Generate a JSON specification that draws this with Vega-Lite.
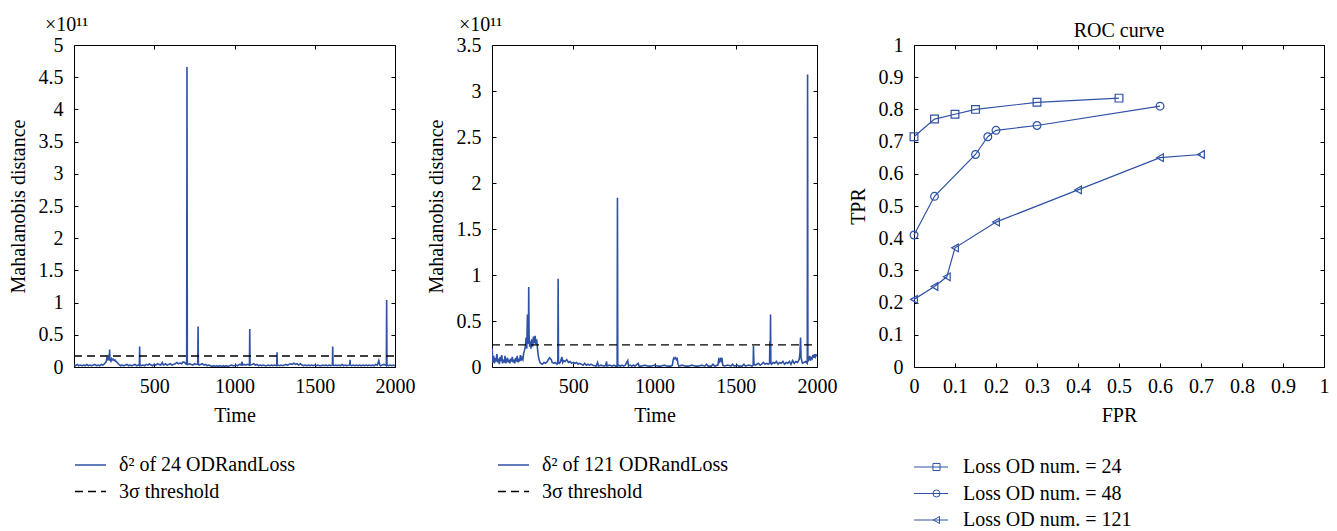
{
  "$schema": "https://vega.github.io/schema/vega-lite/v6.json",
  "padding": {"left": 7, "top": 14, "right": 5, "bottom": 5},
  "background": "white",
  "spacing": 97,
  "bounds": "flush",
  "config": {
    "font": "Liberation Serif",
    "view": {"stroke": "#000", "strokeWidth": 1},
    "axis": {"grid": false, "domain": false, "tickColor": "#000", "tickSize": -4, "labelColor": "#000", "titleColor": "#000", "labelFontSize": 20, "titleFontSize": 20, "titleFontWeight": "normal", "labelFlush": false, "labelOverlap": false, "labelFont": "Liberation Serif", "titleFont": "Liberation Serif"},
    "axisLeft": {"labelPadding": 15, "titlePadding": 10},
    "axisBottom": {"labelPadding": 13, "titlePadding": 9},
    "axisTop": {"minExtent": 0, "maxExtent": 0},
    "axisRight": {"minExtent": 0, "maxExtent": 0},
    "legend": {"labelFont": "Liberation Serif", "labelFontSize": 20, "labelColor": "#000", "padding": 0, "rowPadding": 0.5, "clipHeight": 26, "labelLimit": 400},
    "title": {"font": "Liberation Serif", "fontWeight": "normal", "fontSize": 20, "color": "#000"}
  },
  "datasets": {
    "p1": [
      {"t":1,"v":0.03},{"t":10,"v":0.02},{"t":20,"v":0.04},{"t":30,"v":0.02},{"t":40,"v":0.03},{"t":50,"v":0.02},{"t":60,"v":0.03},{"t":70,"v":0.02},{"t":80,"v":0.04},{"t":90,"v":0.02},{"t":100,"v":0.03},{"t":110,"v":0.02},{"t":120,"v":0.03},{"t":130,"v":0.04},{"t":140,"v":0.02},{"t":150,"v":0.03},{"t":160,"v":0.02},{"t":170,"v":0.04},{"t":180,"v":0.03},{"t":190,"v":0.05},{"t":200,"v":0.08},{"t":205,"v":0.14},{"t":210,"v":0.12},{"t":215,"v":0.16},{"t":220,"v":0.1},{"t":222,"v":0.27},{"t":224,"v":0.12},{"t":230,"v":0.09},{"t":235,"v":0.13},{"t":240,"v":0.11},{"t":245,"v":0.12},{"t":250,"v":0.1},{"t":255,"v":0.11},{"t":260,"v":0.09},{"t":265,"v":0.08},{"t":270,"v":0.07},{"t":275,"v":0.05},{"t":280,"v":0.04},{"t":290,"v":0.02},{"t":300,"v":0.03},{"t":310,"v":0.02},{"t":320,"v":0.03},{"t":330,"v":0.04},{"t":340,"v":0.02},{"t":350,"v":0.03},{"t":360,"v":0.02},{"t":370,"v":0.03},{"t":380,"v":0.04},{"t":390,"v":0.02},{"t":400,"v":0.03},{"t":407,"v":0.02},{"t":409,"v":0.32},{"t":411,"v":0.03},{"t":420,"v":0.02},{"t":430,"v":0.03},{"t":440,"v":0.02},{"t":450,"v":0.04},{"t":460,"v":0.03},{"t":470,"v":0.05},{"t":480,"v":0.03},{"t":490,"v":0.02},{"t":500,"v":0.04},{"t":510,"v":0.03},{"t":520,"v":0.05},{"t":530,"v":0.04},{"t":540,"v":0.03},{"t":550,"v":0.07},{"t":555,"v":0.04},{"t":560,"v":0.03},{"t":570,"v":0.05},{"t":580,"v":0.03},{"t":590,"v":0.04},{"t":600,"v":0.05},{"t":610,"v":0.03},{"t":620,"v":0.04},{"t":630,"v":0.05},{"t":640,"v":0.07},{"t":650,"v":0.05},{"t":660,"v":0.06},{"t":670,"v":0.05},{"t":680,"v":0.08},{"t":690,"v":0.07},{"t":695,"v":0.05},{"t":702,"v":0.04},{"t":704,"v":4.66},{"t":706,"v":0.05},{"t":710,"v":0.04},{"t":720,"v":0.05},{"t":730,"v":0.04},{"t":740,"v":0.03},{"t":750,"v":0.05},{"t":760,"v":0.04},{"t":771,"v":0.05},{"t":773,"v":0.63},{"t":775,"v":0.04},{"t":780,"v":0.03},{"t":790,"v":0.04},{"t":800,"v":0.05},{"t":810,"v":0.03},{"t":820,"v":0.04},{"t":830,"v":0.02},{"t":840,"v":0.03},{"t":850,"v":0.02},{"t":860,"v":0.01},{"t":870,"v":0.02},{"t":880,"v":0.01},{"t":890,"v":0.02},{"t":900,"v":0.01},{"t":910,"v":0.02},{"t":920,"v":0.01},{"t":930,"v":0.02},{"t":940,"v":0.01},{"t":950,"v":0.02},{"t":960,"v":0.01},{"t":970,"v":0.02},{"t":980,"v":0.03},{"t":990,"v":0.02},{"t":1000,"v":0.02},{"t":1010,"v":0.03},{"t":1020,"v":0.02},{"t":1030,"v":0.04},{"t":1040,"v":0.03},{"t":1047,"v":0.08},{"t":1050,"v":0.03},{"t":1060,"v":0.04},{"t":1070,"v":0.03},{"t":1080,"v":0.04},{"t":1093,"v":0.03},{"t":1095,"v":0.59},{"t":1097,"v":0.03},{"t":1110,"v":0.04},{"t":1120,"v":0.05},{"t":1130,"v":0.03},{"t":1140,"v":0.04},{"t":1150,"v":0.02},{"t":1160,"v":0.03},{"t":1170,"v":0.02},{"t":1180,"v":0.03},{"t":1190,"v":0.02},{"t":1200,"v":0.02},{"t":1210,"v":0.03},{"t":1220,"v":0.02},{"t":1230,"v":0.03},{"t":1240,"v":0.02},{"t":1250,"v":0.03},{"t":1263,"v":0.02},{"t":1265,"v":0.23},{"t":1267,"v":0.03},{"t":1280,"v":0.02},{"t":1290,"v":0.03},{"t":1300,"v":0.02},{"t":1310,"v":0.03},{"t":1320,"v":0.04},{"t":1330,"v":0.03},{"t":1340,"v":0.04},{"t":1350,"v":0.05},{"t":1360,"v":0.04},{"t":1370,"v":0.06},{"t":1380,"v":0.04},{"t":1390,"v":0.05},{"t":1400,"v":0.03},{"t":1410,"v":0.05},{"t":1420,"v":0.03},{"t":1430,"v":0.02},{"t":1440,"v":0.03},{"t":1450,"v":0.02},{"t":1460,"v":0.03},{"t":1470,"v":0.02},{"t":1480,"v":0.03},{"t":1490,"v":0.02},{"t":1500,"v":0.03},{"t":1510,"v":0.02},{"t":1520,"v":0.03},{"t":1530,"v":0.02},{"t":1540,"v":0.02},{"t":1550,"v":0.03},{"t":1560,"v":0.02},{"t":1570,"v":0.03},{"t":1580,"v":0.02},{"t":1590,"v":0.03},{"t":1600,"v":0.02},{"t":1610,"v":0.03},{"t":1612,"v":0.32},{"t":1614,"v":0.03},{"t":1620,"v":0.02},{"t":1630,"v":0.03},{"t":1640,"v":0.02},{"t":1650,"v":0.03},{"t":1660,"v":0.02},{"t":1670,"v":0.04},{"t":1680,"v":0.02},{"t":1690,"v":0.03},{"t":1700,"v":0.02},{"t":1718,"v":0.03},{"t":1720,"v":0.11},{"t":1722,"v":0.03},{"t":1730,"v":0.02},{"t":1740,"v":0.03},{"t":1750,"v":0.02},{"t":1760,"v":0.03},{"t":1770,"v":0.02},{"t":1780,"v":0.03},{"t":1790,"v":0.02},{"t":1800,"v":0.03},{"t":1810,"v":0.02},{"t":1820,"v":0.03},{"t":1830,"v":0.02},{"t":1840,"v":0.03},{"t":1850,"v":0.02},{"t":1860,"v":0.03},{"t":1870,"v":0.02},{"t":1880,"v":0.04},{"t":1890,"v":0.03},{"t":1899,"v":0.1},{"t":1905,"v":0.03},{"t":1910,"v":0.02},{"t":1920,"v":0.03},{"t":1930,"v":0.04},{"t":1940,"v":0.03},{"t":1946,"v":0.02},{"t":1948,"v":1.04},{"t":1950,"v":0.03},{"t":1960,"v":0.02},{"t":1970,"v":0.03},{"t":1980,"v":0.02},{"t":1990,"v":0.03},{"t":2000,"v":0.02}
    ],
    "th1": [{"t":0,"v":0.17},{"t":2000,"v":0.17}],
    "p2": [
      {"t":1,"v":0.2},{"t":5,"v":0.05},{"t":10,"v":0.12},{"t":15,"v":0.04},{"t":20,"v":0.1},{"t":25,"v":0.06},{"t":30,"v":0.14},{"t":35,"v":0.05},{"t":40,"v":0.09},{"t":45,"v":0.03},{"t":50,"v":0.11},{"t":55,"v":0.06},{"t":60,"v":0.13},{"t":65,"v":0.04},{"t":70,"v":0.08},{"t":75,"v":0.05},{"t":80,"v":0.12},{"t":85,"v":0.04},{"t":90,"v":0.07},{"t":95,"v":0.1},{"t":100,"v":0.05},{"t":105,"v":0.08},{"t":110,"v":0.04},{"t":115,"v":0.09},{"t":120,"v":0.06},{"t":125,"v":0.11},{"t":130,"v":0.05},{"t":135,"v":0.08},{"t":140,"v":0.04},{"t":145,"v":0.1},{"t":150,"v":0.06},{"t":155,"v":0.12},{"t":160,"v":0.05},{"t":165,"v":0.09},{"t":170,"v":0.06},{"t":175,"v":0.13},{"t":180,"v":0.07},{"t":185,"v":0.1},{"t":190,"v":0.08},{"t":195,"v":0.15},{"t":200,"v":0.18},{"t":205,"v":0.22},{"t":210,"v":0.32},{"t":214,"v":0.2},{"t":218,"v":0.57},{"t":220,"v":0.25},{"t":224,"v":0.3},{"t":226,"v":0.87},{"t":228,"v":0.35},{"t":232,"v":0.22},{"t":236,"v":0.28},{"t":240,"v":0.2},{"t":245,"v":0.3},{"t":250,"v":0.22},{"t":255,"v":0.33},{"t":260,"v":0.26},{"t":265,"v":0.34},{"t":270,"v":0.25},{"t":275,"v":0.3},{"t":280,"v":0.2},{"t":285,"v":0.12},{"t":290,"v":0.08},{"t":295,"v":0.05},{"t":300,"v":0.04},{"t":310,"v":0.03},{"t":320,"v":0.05},{"t":330,"v":0.04},{"t":340,"v":0.06},{"t":350,"v":0.09},{"t":355,"v":0.1},{"t":360,"v":0.09},{"t":365,"v":0.08},{"t":370,"v":0.05},{"t":380,"v":0.04},{"t":390,"v":0.05},{"t":400,"v":0.03},{"t":405,"v":0.04},{"t":407,"v":0.96},{"t":409,"v":0.05},{"t":415,"v":0.04},{"t":420,"v":0.05},{"t":430,"v":0.11},{"t":435,"v":0.05},{"t":440,"v":0.07},{"t":450,"v":0.06},{"t":460,"v":0.08},{"t":470,"v":0.05},{"t":480,"v":0.06},{"t":490,"v":0.04},{"t":500,"v":0.05},{"t":510,"v":0.04},{"t":520,"v":0.05},{"t":530,"v":0.03},{"t":540,"v":0.04},{"t":550,"v":0.03},{"t":560,"v":0.02},{"t":570,"v":0.04},{"t":580,"v":0.02},{"t":590,"v":0.03},{"t":600,"v":0.02},{"t":610,"v":0.03},{"t":620,"v":0.02},{"t":640,"v":0.01},{"t":650,"v":0.05},{"t":655,"v":0.01},{"t":670,"v":0.02},{"t":690,"v":0.01},{"t":700,"v":0.02},{"t":705,"v":0.06},{"t":708,"v":0.01},{"t":720,"v":0.02},{"t":740,"v":0.01},{"t":750,"v":0.02},{"t":760,"v":0.01},{"t":770,"v":0.01},{"t":772,"v":1.84},{"t":774,"v":0.01},{"t":780,"v":0.02},{"t":790,"v":0.01},{"t":800,"v":0.02},{"t":810,"v":0.01},{"t":820,"v":0.02},{"t":835,"v":0.07},{"t":840,"v":0.01},{"t":850,"v":0.02},{"t":860,"v":0.01},{"t":870,"v":0.02},{"t":880,"v":0.01},{"t":900,"v":0.04},{"t":905,"v":0.01},{"t":920,"v":0.01},{"t":940,"v":0.02},{"t":960,"v":0.01},{"t":980,"v":0.01},{"t":1000,"v":0.02},{"t":1020,"v":0.01},{"t":1040,"v":0.01},{"t":1060,"v":0.02},{"t":1080,"v":0.01},{"t":1100,"v":0.01},{"t":1110,"v":0.02},{"t":1115,"v":0.08},{"t":1120,"v":0.1},{"t":1125,"v":0.09},{"t":1130,"v":0.1},{"t":1135,"v":0.08},{"t":1140,"v":0.09},{"t":1145,"v":0.03},{"t":1150,"v":0.01},{"t":1170,"v":0.02},{"t":1190,"v":0.01},{"t":1210,"v":0.01},{"t":1230,"v":0.02},{"t":1250,"v":0.01},{"t":1270,"v":0.01},{"t":1290,"v":0.02},{"t":1310,"v":0.01},{"t":1320,"v":0.03},{"t":1330,"v":0.01},{"t":1350,"v":0.01},{"t":1360,"v":0.03},{"t":1370,"v":0.01},{"t":1390,"v":0.02},{"t":1395,"v":0.08},{"t":1400,"v":0.06},{"t":1405,"v":0.1},{"t":1410,"v":0.07},{"t":1415,"v":0.1},{"t":1420,"v":0.02},{"t":1430,"v":0.01},{"t":1450,"v":0.02},{"t":1470,"v":0.01},{"t":1480,"v":0.03},{"t":1490,"v":0.01},{"t":1510,"v":0.02},{"t":1520,"v":0.01},{"t":1540,"v":0.01},{"t":1550,"v":0.03},{"t":1560,"v":0.01},{"t":1580,"v":0.02},{"t":1600,"v":0.01},{"t":1607,"v":0.02},{"t":1609,"v":0.23},{"t":1612,"v":0.03},{"t":1620,"v":0.02},{"t":1630,"v":0.03},{"t":1640,"v":0.04},{"t":1650,"v":0.02},{"t":1660,"v":0.03},{"t":1670,"v":0.05},{"t":1680,"v":0.03},{"t":1690,"v":0.04},{"t":1700,"v":0.03},{"t":1708,"v":0.04},{"t":1710,"v":0.28},{"t":1712,"v":0.05},{"t":1714,"v":0.57},{"t":1716,"v":0.04},{"t":1720,"v":0.03},{"t":1730,"v":0.05},{"t":1740,"v":0.04},{"t":1750,"v":0.06},{"t":1760,"v":0.03},{"t":1770,"v":0.05},{"t":1780,"v":0.04},{"t":1790,"v":0.06},{"t":1800,"v":0.03},{"t":1810,"v":0.05},{"t":1820,"v":0.04},{"t":1830,"v":0.06},{"t":1840,"v":0.03},{"t":1850,"v":0.07},{"t":1860,"v":0.04},{"t":1870,"v":0.06},{"t":1880,"v":0.05},{"t":1890,"v":0.08},{"t":1895,"v":0.15},{"t":1899,"v":0.32},{"t":1902,"v":0.1},{"t":1910,"v":0.04},{"t":1920,"v":0.05},{"t":1930,"v":0.06},{"t":1935,"v":0.05},{"t":1940,"v":0.04},{"t":1942,"v":3.18},{"t":1944,"v":0.06},{"t":1950,"v":0.08},{"t":1955,"v":0.12},{"t":1960,"v":0.07},{"t":1965,"v":0.1},{"t":1970,"v":0.09},{"t":1975,"v":0.13},{"t":1980,"v":0.1},{"t":1985,"v":0.14},{"t":1990,"v":0.11},{"t":1995,"v":0.13},{"t":2000,"v":0.12}
    ],
    "th2": [{"t":0,"v":0.24},{"t":2000,"v":0.24}],
    "roc": [
      {"fpr":0,"tpr":0.715,"g":"Loss OD num. = 24"},{"fpr":0.05,"tpr":0.77,"g":"Loss OD num. = 24"},{"fpr":0.1,"tpr":0.785,"g":"Loss OD num. = 24"},{"fpr":0.15,"tpr":0.8,"g":"Loss OD num. = 24"},{"fpr":0.3,"tpr":0.822,"g":"Loss OD num. = 24"},{"fpr":0.5,"tpr":0.835,"g":"Loss OD num. = 24"},
      {"fpr":0,"tpr":0.41,"g":"Loss OD num. = 48"},{"fpr":0.05,"tpr":0.53,"g":"Loss OD num. = 48"},{"fpr":0.15,"tpr":0.66,"g":"Loss OD num. = 48"},{"fpr":0.18,"tpr":0.715,"g":"Loss OD num. = 48"},{"fpr":0.2,"tpr":0.735,"g":"Loss OD num. = 48"},{"fpr":0.3,"tpr":0.75,"g":"Loss OD num. = 48"},{"fpr":0.6,"tpr":0.81,"g":"Loss OD num. = 48"},
      {"fpr":0,"tpr":0.21,"g":"Loss OD num. = 121"},{"fpr":0.05,"tpr":0.25,"g":"Loss OD num. = 121"},{"fpr":0.08,"tpr":0.28,"g":"Loss OD num. = 121"},{"fpr":0.1,"tpr":0.37,"g":"Loss OD num. = 121"},{"fpr":0.2,"tpr":0.45,"g":"Loss OD num. = 121"},{"fpr":0.4,"tpr":0.55,"g":"Loss OD num. = 121"},{"fpr":0.6,"tpr":0.65,"g":"Loss OD num. = 121"},{"fpr":0.7,"tpr":0.66,"g":"Loss OD num. = 121"}
    ]
  },
  "resolve": {"scale": {"x": "independent", "y": "independent", "color": "independent", "strokeDash": "independent", "shape": "independent"}, "legend": {"color": "independent", "strokeDash": "independent", "shape": "independent"}},
  "hconcat": [
    {
      "width": 321, "height": 322,
      "title": {"text": "×10¹¹", "anchor": "start", "frame": "group", "dx": -29, "offset": 0},
      "resolve": {"axis": {"x": "independent", "y": "independent"}},
      "layer": [
        {
          "data": {"name": "p1"},
          "mark": {"type": "line", "strokeWidth": 1.6, "clip": true},
          "encoding": {
            "x": {"field": "t", "type": "quantitative", "title": "Time", "scale": {"domain": [0, 2000], "nice": false}, "axis": {"orient": "bottom", "values": [500, 1000, 1500, 2000], "format": "d"}},
            "y": {"field": "v", "type": "quantitative", "title": "Mahalanobis distance", "scale": {"domain": [0, 5], "nice": false}, "axis": {"orient": "left", "values": [0, 0.5, 1, 1.5, 2, 2.5, 3, 3.5, 4, 4.5, 5], "format": "~g"}},
            "color": {"datum": "δ² of 24 ODRandLoss", "type": "nominal", "title": null, "scale": {"domain": ["δ² of 24 ODRandLoss", "3σ threshold"], "range": ["#2f52a6", "#000000"]}, "legend": {"orient": "none", "legendX": 0, "legendY": 407, "symbolSize": 961, "symbolStrokeWidth": 1.3, "labelOffset": 12}},
            "strokeDash": {"datum": "δ² of 24 ODRandLoss", "type": "nominal", "title": null, "scale": {"domain": ["δ² of 24 ODRandLoss", "3σ threshold"], "range": [[1, 0], [8, 5]]}, "legend": {"orient": "none", "legendX": 0, "legendY": 407, "symbolSize": 961, "symbolStrokeWidth": 1.3, "labelOffset": 12}}
          }
        },
        {
          "data": {"name": "th1"},
          "mark": {"type": "line", "strokeWidth": 1.4},
          "encoding": {
            "x": {"field": "t", "type": "quantitative", "title": null, "scale": {"domain": [0, 2000], "nice": false}, "axis": {"orient": "top", "values": [500, 1000, 1500, 2000], "labels": false}},
            "y": {"field": "v", "type": "quantitative", "title": null, "scale": {"domain": [0, 5], "nice": false}, "axis": {"orient": "right", "values": [0, 0.5, 1, 1.5, 2, 2.5, 3, 3.5, 4, 4.5, 5], "labels": false}},
            "color": {"datum": "3σ threshold", "type": "nominal", "title": null},
            "strokeDash": {"datum": "3σ threshold", "type": "nominal", "title": null}
          }
        }
      ]
    },
    {
      "width": 325, "height": 322,
      "title": {"text": "×10¹¹", "anchor": "start", "frame": "group", "dx": -33, "offset": 0},
      "resolve": {"axis": {"x": "independent", "y": "independent"}},
      "layer": [
        {
          "data": {"name": "p2"},
          "mark": {"type": "line", "strokeWidth": 1.6, "clip": true},
          "encoding": {
            "x": {"field": "t", "type": "quantitative", "title": "Time", "scale": {"domain": [0, 2000], "nice": false}, "axis": {"orient": "bottom", "values": [500, 1000, 1500, 2000], "format": "d"}},
            "y": {"field": "v", "type": "quantitative", "title": "Mahalanobis distance", "scale": {"domain": [0, 3.5], "nice": false}, "axis": {"orient": "left", "values": [0, 0.5, 1, 1.5, 2, 2.5, 3, 3.5], "format": "~g"}},
            "color": {"datum": "δ² of 121 ODRandLoss", "type": "nominal", "title": null, "scale": {"domain": ["δ² of 121 ODRandLoss", "3σ threshold"], "range": ["#2f52a6", "#000000"]}, "legend": {"orient": "none", "legendX": 5, "legendY": 407, "symbolSize": 961, "symbolStrokeWidth": 1.3, "labelOffset": 12}},
            "strokeDash": {"datum": "δ² of 121 ODRandLoss", "type": "nominal", "title": null, "scale": {"domain": ["δ² of 121 ODRandLoss", "3σ threshold"], "range": [[1, 0], [8, 5]]}, "legend": {"orient": "none", "legendX": 5, "legendY": 407, "symbolSize": 961, "symbolStrokeWidth": 1.3, "labelOffset": 12}}
          }
        },
        {
          "data": {"name": "th2"},
          "mark": {"type": "line", "strokeWidth": 1.4},
          "encoding": {
            "x": {"field": "t", "type": "quantitative", "title": null, "scale": {"domain": [0, 2000], "nice": false}, "axis": {"orient": "top", "values": [500, 1000, 1500, 2000], "labels": false}},
            "y": {"field": "v", "type": "quantitative", "title": null, "scale": {"domain": [0, 3.5], "nice": false}, "axis": {"orient": "right", "values": [0, 0.5, 1, 1.5, 2, 2.5, 3, 3.5], "labels": false}},
            "color": {"datum": "3σ threshold", "type": "nominal", "title": null},
            "strokeDash": {"datum": "3σ threshold", "type": "nominal", "title": null}
          }
        }
      ]
    },
    {
      "width": 410, "height": 322,
      "title": {"text": "ROC curve", "anchor": "middle", "offset": -6},
      "data": {"name": "roc"},
      "resolve": {"axis": {"x": "independent", "y": "independent"}, "legend": {"color": "independent", "shape": "independent"}},
      "layer": [
        {
          "mark": {"type": "line", "strokeWidth": 1.2},
          "encoding": {
            "x": {"field": "fpr", "type": "quantitative", "title": "FPR", "scale": {"domain": [0, 1], "nice": false}, "axis": {"orient": "bottom", "values": [0, 0.1, 0.2, 0.3, 0.4, 0.5, 0.6, 0.7, 0.8, 0.9, 1], "format": "~g"}},
            "y": {"field": "tpr", "type": "quantitative", "title": "TPR", "scale": {"domain": [0, 1], "nice": false}, "axis": {"orient": "left", "values": [0, 0.1, 0.2, 0.3, 0.4, 0.5, 0.6, 0.7, 0.8, 0.9, 1], "format": "~g"}},
            "color": {"field": "g", "type": "nominal", "title": null,
              "scale": {"domain": ["Loss OD num. = 24", "Loss OD num. = 48", "Loss OD num. = 121"], "range": ["#2f52a6", "#2f52a6", "#2f52a6"]},
              "legend": {"orient": "none", "legendX": -1, "legendY": 409, "symbolType": "stroke", "symbolSize": 1156, "symbolStrokeWidth": 1.2, "labelOffset": 14}}
          }
        },
        {
          "mark": {"type": "point", "filled": false, "strokeWidth": 1.2, "color": "#2f52a6", "size": 60, "opacity": 1},
          "encoding": {
            "x": {"field": "fpr", "type": "quantitative", "title": null, "scale": {"domain": [0, 1], "nice": false}, "axis": {"orient": "top", "values": [0, 0.1, 0.2, 0.3, 0.4, 0.5, 0.6, 0.7, 0.8, 0.9, 1], "labels": false}},
            "y": {"field": "tpr", "type": "quantitative", "title": null, "scale": {"domain": [0, 1], "nice": false}, "axis": {"orient": "right", "values": [0, 0.1, 0.2, 0.3, 0.4, 0.5, 0.6, 0.7, 0.8, 0.9, 1], "labels": false}},
            "shape": {"field": "g", "type": "nominal", "title": null,
              "scale": {"domain": ["Loss OD num. = 24", "Loss OD num. = 48", "Loss OD num. = 121"], "range": ["square", "circle", "triangle-left"]},
              "legend": {"orient": "none", "legendX": -1, "legendY": 409, "symbolSize": 50, "symbolOffset": 13.5, "symbolStrokeWidth": 1, "symbolStrokeColor": "#2f52a6", "symbolFillColor": "white", "labelOffset": 41, "labelExpr": "''"}}
          }
        }
      ]
    }
  ]
}
